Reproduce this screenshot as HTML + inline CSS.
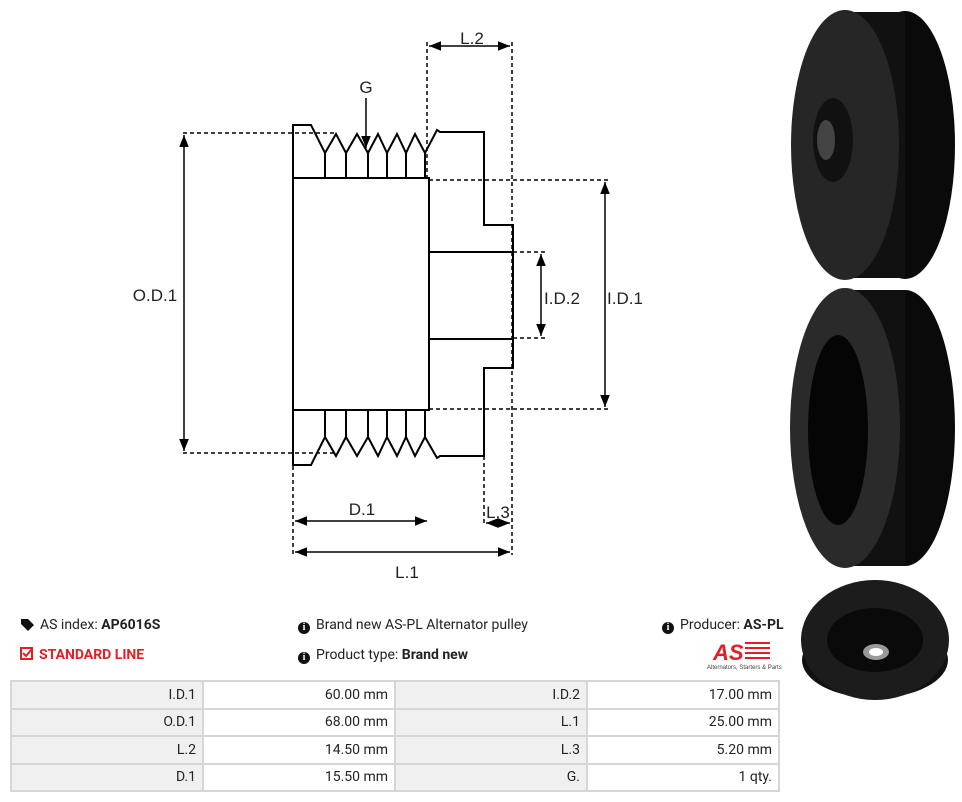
<!DOCTYPE html>
<html><head><meta charset="utf-8"><style>
body{margin:0;width:962px;height:802px;background:#fff;font-family:"Roboto","Liberation Sans",sans-serif;color:#222;position:relative;overflow:hidden}
.t{position:absolute;font-size:14px;white-space:nowrap}
b{font-weight:bold}
table{position:absolute;left:10px;top:680px;border-collapse:collapse;width:770px;font-size:14px}
td{border:2px solid #d6d6d6;height:25.5px;text-align:right;padding:0 6px;width:180px}
td.g{background:#f0f0f0}
.i{display:inline-block;width:12px;height:12px;border-radius:50%;background:#111;color:#fff;font-size:10px;line-height:12px;text-align:center;font-weight:bold;font-family:"Liberation Serif",serif;vertical-align:-1px;margin-right:6px}
</style></head><body>
<svg width="962" height="802" style="position:absolute;left:0;top:0" font-family="Liberation Sans, sans-serif" font-size="17">
<defs><marker id="a" viewBox="0 0 10 10" refX="10" refY="5" markerWidth="8" markerHeight="8" orient="auto-start-reverse"><path d="M0,1 L10,5 L0,9z" fill="#000"/></marker></defs>
<g fill="none" stroke="#000" stroke-width="2">
<path d="M293,125 H311 L325,153 L336,134 L346,153 L357,134 L368,153 L378,134 L387,153 L397,134 L406,153 L415,134 L425,153 L437,130 L440,132 H484 V225 H513 V368 H484 V456 H440 L437,458 L425,437 L415,456 L406,437 L397,456 L387,437 L378,456 L368,437 L357,456 L346,437 L336,456 L325,437 L311,465 H293 Z"/>
<rect x="293" y="178" width="136" height="232"/>
<path d="M429,252 H513 M429,339 H513 M429,252 V339"/>
<path d="M325,153V178 M346,153V178 M368,153V178 M387,153V178 M406,153V178 M425,153V178 M325,437V410 M346,437V410 M368,437V410 M387,437V410 M406,437V410 M425,437V410"/>
</g>
<g fill="none" stroke="#000" stroke-width="1.5" stroke-dasharray="4,3">
<path d="M183,133H336 M183,453H336 M429,180H608 M429,409H608 M513,252H545 M513,338H545 M427,42V178 M512,42V555 M293,410V555 M484,456V525"/>
</g>
<g stroke="#000" stroke-width="1.5" marker-start="url(#a)" marker-end="url(#a)">
<line x1="184" y1="135" x2="184" y2="451"/>
<line x1="605" y1="182" x2="605" y2="407"/>
<line x1="541" y1="254" x2="541" y2="336"/>
<line x1="429" y1="46" x2="510" y2="46"/>
<line x1="295" y1="521" x2="427" y2="521"/>
<line x1="486" y1="523" x2="510" y2="523"/>
<line x1="295" y1="552" x2="510" y2="552"/>
</g>
<line x1="366" y1="98" x2="366" y2="148" stroke="#000" stroke-width="1.5" marker-end="url(#a)"/>
<g fill="#222">
<text x="155" y="301" text-anchor="middle">O.D.1</text>
<text x="625" y="304" text-anchor="middle">I.D.1</text>
<text x="562" y="304" text-anchor="middle">I.D.2</text>
<text x="472" y="44" text-anchor="middle">L.2</text>
<text x="366" y="93" text-anchor="middle">G</text>
<text x="362" y="515" text-anchor="middle">D.1</text>
<text x="498" y="518" text-anchor="middle">L.3</text>
<text x="407" y="578" text-anchor="middle">L.1</text>
</g>
<g>
<ellipse cx="905" cy="145" rx="50" ry="134" fill="#0a0a0a"/>
<rect x="845" y="12" width="60" height="266" fill="#111"/>
<ellipse cx="845" cy="145" rx="54" ry="135" fill="#262626"/>
<ellipse cx="833" cy="140" rx="20" ry="42" fill="#111"/>
<ellipse cx="826" cy="140" rx="9" ry="20" fill="#444"/>
<ellipse cx="905" cy="428" rx="50" ry="138" fill="#0a0a0a"/>
<rect x="845" y="290" width="60" height="276" fill="#111"/>
<ellipse cx="845" cy="428" rx="55" ry="140" fill="#2a2a2a"/>
<ellipse cx="838" cy="430" rx="30" ry="95" fill="#050505"/>
<ellipse cx="875" cy="660" rx="73" ry="38" fill="#111"/>
<ellipse cx="875" cy="640" rx="74" ry="60" fill="#1c1c1c"/>
<ellipse cx="875" cy="640" rx="48" ry="32" fill="#0a0a0a"/>
<ellipse cx="876" cy="652" rx="13" ry="8" fill="#999"/>
<ellipse cx="876" cy="652" rx="7" ry="4" fill="#fff"/>
</g>
<g fill="#e31e24"><text x="713" y="660" font-size="22" font-weight="bold" font-style="italic">AS</text>
<rect x="745" y="642" width="25" height="2"/><rect x="745" y="647" width="25" height="2"/><rect x="745" y="652" width="25" height="2"/><rect x="745" y="657" width="25" height="2"/></g>
<text x="707" y="669" font-size="6" fill="#444">Alternators, Starters &amp; Parts</text>
<path d="M21,619 h7 l6,6 l-6,6 l-7,-7z" fill="#111"/>
<rect x="21" y="648" width="11" height="11" fill="none" stroke="#e31e24" stroke-width="2"/>
<path d="M23,653 l3,3 l6,-7" fill="none" stroke="#e31e24" stroke-width="2"/>
</svg>
<div class="t" style="left:40px;top:617px">AS index: <b>AP6016S</b></div>
<div class="t" style="left:39px;top:647px;color:#e31e24;font-weight:bold">STANDARD LINE</div>
<div class="t" style="left:298px;top:617px"><span class="i">i</span>Brand new AS-PL Alternator pulley</div>
<div class="t" style="left:298px;top:647px"><span class="i">i</span>Product type: <b>Brand new</b></div>
<div class="t" style="left:662px;top:617px"><span class="i">i</span>Producer: <b>AS-PL</b></div>
<table>
<tr><td class="g">I.D.1</td><td>60.00 mm</td><td class="g">I.D.2</td><td>17.00 mm</td></tr>
<tr><td class="g">O.D.1</td><td>68.00 mm</td><td class="g">L.1</td><td>25.00 mm</td></tr>
<tr><td class="g">L.2</td><td>14.50 mm</td><td class="g">L.3</td><td>5.20 mm</td></tr>
<tr><td class="g">D.1</td><td>15.50 mm</td><td class="g">G.</td><td>1 qty.</td></tr>
</table>
</body></html>
